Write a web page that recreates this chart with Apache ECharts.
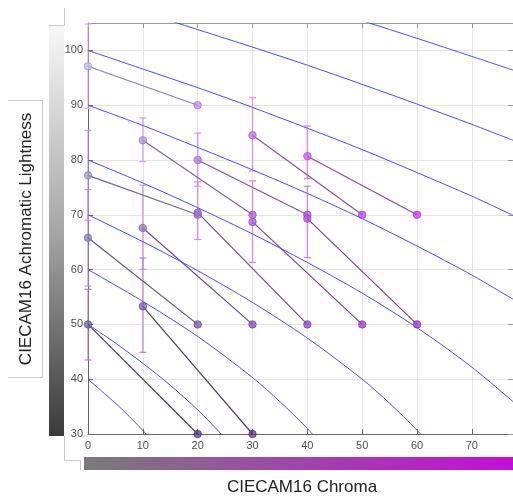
<!DOCTYPE html>
<html>
<head>
<meta charset="utf-8">
<script src="https://cdn.jsdelivr.net/npm/echarts@6/dist/echarts.min.js"></script>
<style>
html,body{margin:0;padding:0;background:#fff;}
#chart{width:513px;height:497px;}
</style>
</head>
<body>
<div id="chart"></div>
<script>
// ---------- data ----------
const chromaTicks = [0, 10, 20, 30, 40, 50, 60, 70];
const lightnessTicks = [30, 40, 50, 60, 70, 80, 90, 100];

// matched achromatic/chromatic pairs (left end = match, right end = stimulus)
const matchChroma = [0, 10, 20, 30, 40, 0, 20, 30, 40, 0, 10, 0, 10];
const matchLight  = [97.1, 83.6, 80.0, 84.5, 80.7, 77.2, 70.4, 68.7, 69.3, 65.8, 67.6, 50.0, 53.3];
const stimChroma  = [20, 30, 40, 50, 60, 20, 40, 50, 60, 20, 30, 20, 30];
const stimLight   = [90, 70, 70, 70, 70, 70, 50, 50, 50, 50, 50, 30, 30];
const errLow      = [89.4, 79.7, 75.2, 78.0, 76.6, 69.0, 65.5, 61.3, 62.2, 57.0, 60.05, 43.5, 44.9];
const errHigh     = [104.8, 87.7, 84.9, 91.4, 86.2, 85.4, 76.0, 76.2, 75.2, 74.6, 75.4, 56.4, 62.1];

// iso-lightness curves (chroma, lightness)
const iso40  = [[0,40],[3,37.4],[6,34.7],[9,31.7],[10.6,30.0],[12,28.4]];
const iso50  = [[0,50],[5,46.6],[10,42.9],[15,38.9],[20,34.4],[24,30.3],[26,28.0]];
const iso60  = [[0,60],[10,54.2],[20,47.8],[30,40.3],[35,35.9],[40,31.0],[43,27.6]];
const iso70  = [[0,70],[10,65.1],[20,59.8],[30,54.0],[40,47.5],[50,40.0],[55,35.6],[60,30.7],[62,28.4]];
const iso80  = [[0,80],[10,75.8],[20,71.3],[30,66.5],[40,61.3],[50,55.7],[60,49.4],[70,42.2],[77.5,35.9]];
const iso90  = [[0,90],[10,86.3],[20,82.3],[30,78.2],[40,73.9],[50,69.3],[60,64.3],[70,59.0],[77.5,54.6]];
const iso100 = [[0,100],[10,96.6],[20,93.2],[30,89.6],[40,85.8],[50,81.9],[60,77.7],[70,73.4],[77.5,69.9]];
const iso110 = [[0,110],[10,107.0],[20,103.8],[30,100.6],[40,97.3],[50,93.8],[60,90.2],[70,86.5],[77.5,83.6]];
const iso120 = [[40,108.4],[50,105.4],[60,102.2],[70,98.9],[77.5,96.4]];
const isoCurves = [iso40, iso50, iso60, iso70, iso80, iso90, iso100, iso110, iso120];

// ---------- styling helpers ----------
const FONT = 'Liberation Sans, Arial, sans-serif';
function clamp(v) { return Math.max(0, Math.min(255, v)); }
function markerRGB(c, L) {
  const g = clamp(1.9 * L + 5);
  const base = [g, g, clamp(g + 55)];
  const purple = [clamp(2 * L + 80), 30, clamp(2 * L + 130)];
  const t = Math.min(1, c / 70);
  return base.map((v, i) => Math.round(v * (1 - t) + purple[i] * t));
}
function rgb(a, alpha) { return 'rgba(' + a[0] + ',' + a[1] + ',' + a[2] + ',' + (alpha == null ? 1 : alpha) + ')'; }
function mix(a, b, w) { return a.map((v, i) => Math.round(v * (1 - w) + b[i] * w)); }
function scale(a, k) { return a.map(v => Math.round(v * k)); }
function desat(a, w) { const m = (a[0] + a[1] + a[2]) / 3; return a.map(v => Math.round(v * (1 - w) + m * w)); }

// ---------- series ----------
const series = [];

// error bars
const errData = matchChroma.map((c, i) => [c, errLow[i], errHigh[i], matchLight[i]]);
series.push({
  type: 'custom',
  xAxisIndex: 0, yAxisIndex: 0,
  z: 2,
  clip: false,
  data: errData,
  renderItem: function (params, api) {
    const x = api.value(0), lo = api.value(1), hi = api.value(2), L = api.value(3);
    const p1 = api.coord([x, lo]);
    const p2 = api.coord([x, hi]);
    const col = rgb(mix(markerRGB(x, L), [238, 150, 255], 0.5), 0.85);
    const st = { stroke: col, lineWidth: 1.3 };
    const hw = 3.5;
    return {
      type: 'group',
      children: [
        { type: 'line', shape: { x1: p1[0], y1: p1[1], x2: p2[0], y2: p2[1] }, style: st },
        { type: 'line', shape: { x1: p1[0] - hw, y1: p1[1], x2: p1[0] + hw, y2: p1[1] }, style: st },
        { type: 'line', shape: { x1: p2[0] - hw, y1: p2[1], x2: p2[0] + hw, y2: p2[1] }, style: st }
      ]
    };
  }
});

// connecting segments
matchChroma.forEach((c, i) => {
  const col = scale(desat(mix(markerRGB(c, matchLight[i]), markerRGB(stimChroma[i], stimLight[i]), 0.5), 0.3), 0.74);
  series.push({
    type: 'line',
    xAxisIndex: 0, yAxisIndex: 0,
    z: 3,
    symbol: 'none',
    silent: true,
    lineStyle: { color: rgb(col), width: 1.2 },
    data: [[c, matchLight[i]], [stimChroma[i], stimLight[i]]]
  });
});

// markers
const pts = [];
matchChroma.forEach((c, i) => { pts.push([c, matchLight[i]]); pts.push([stimChroma[i], stimLight[i]]); });
series.push({
  type: 'scatter',
  xAxisIndex: 0, yAxisIndex: 0,
  z: 4,
  symbol: 'circle',
  symbolSize: 7.5,
  data: pts.map(p => {
    const m = markerRGB(p[0], p[1]);
    return { value: p, itemStyle: { color: rgb(m, 0.92), borderColor: rgb(scale(m, 0.78)), borderWidth: 0.8 } };
  })
});

// iso curves
isoCurves.forEach(curve => {
  series.push({
    type: 'line',
    xAxisIndex: 0, yAxisIndex: 0,
    z: 5,
    symbol: 'none',
    smooth: 0.3,
    silent: true,
    clip: true,
    lineStyle: { color: '#4d4dff', width: 1 },
    data: curve
  });
});

// ---------- chart ----------
const chart = echarts.init(document.getElementById('chart'), null, { renderer: 'canvas' });
const xMin = chromaTicks[0], yMin = lightnessTicks[0];
const gridCfg = { left: 88, top: 23, width: 425, height: 411, outerBoundsMode: 'none', containLabel: false };

chart.setOption({
  animation: false,
  backgroundColor: '#ffffff',
  grid: gridCfg,
  xAxis: [
    {
      type: 'value', position: 'bottom', min: xMin, max: 77.5, interval: 10,
      axisLine: { show: true, onZero: false, lineStyle: { color: '#666', width: 1 } },
      axisTick: { show: true, inside: true, length: 5, lineStyle: { color: '#666' } },
      axisLabel: { color: '#505050', fontSize: 11, fontFamily: FONT, margin: 6, showMaxLabel: false,
        formatter: v => chromaTicks.indexOf(v) >= 0 ? String(v) : '' },
      splitLine: { show: true, lineStyle: { color: '#e6e6e6', width: 1 } }
    },
    {
      type: 'value', position: 'top', min: xMin, max: 77.5, interval: 10,
      axisLine: { show: true, onZero: false, lineStyle: { color: '#999', width: 1 } },
      axisTick: { show: true, inside: true, length: 5, lineStyle: { color: '#999' } },
      axisLabel: { show: false },
      splitLine: { show: false }
    }
  ],
  yAxis: [
    {
      type: 'value', position: 'left', min: yMin, max: 105, interval: 10,
      axisLine: { show: true, onZero: false, lineStyle: { color: '#666', width: 1 } },
      axisTick: { show: true, inside: true, length: 5, lineStyle: { color: '#666' } },
      axisLabel: { color: '#505050', fontSize: 11, fontFamily: FONT, margin: 5, showMaxLabel: false,
        formatter: v => lightnessTicks.indexOf(v) >= 0 ? String(v) : '' },
      splitLine: { show: true, lineStyle: { color: '#e6e6e6', width: 1 } }
    },
    {
      type: 'value', position: 'right', min: yMin, max: 105, interval: 10,
      axisLine: { show: true, onZero: false, lineStyle: { color: '#999', width: 1 } },
      axisTick: { show: true, inside: true, length: 5, lineStyle: { color: '#999' } },
      axisLabel: { show: false },
      splitLine: { show: false }
    }
  ],
  graphic: [
    // y label box
    { type: 'polyline', silent: true, z: 0,
      shape: { points: [[8, 100.5], [42.5, 100.5], [42.5, 377.5], [8, 377.5]] },
      style: { stroke: '#cccccc', fill: null, lineWidth: 1 } },
    { type: 'text', silent: true, z: 10, x: 26, y: 239, rotation: Math.PI / 2,
      style: { text: 'CIECAM16 Achromatic Lightness', font: '17px ' + FONT, fill: '#222',
        align: 'center', verticalAlign: 'middle' } },
    // y colour bar and panel edges
    { type: 'rect', silent: true, z: 0,
      shape: { x: 49, y: 26, width: 15, height: 410 },
      style: { fill: new echarts.graphic.LinearGradient(0, 0, 0, 1, [
        { offset: 0, color: '#f8f8f8' }, { offset: 0.5, color: '#a6a6a6' }, { offset: 1, color: '#3a3a3a' }]) } },
    { type: 'polyline', silent: true, z: 0,
      shape: { points: [[64.5, 8], [64.5, 25.5], [49, 25.5]] },
      style: { stroke: '#c8c8c8', fill: null, lineWidth: 1 } },
    { type: 'polyline', silent: true, z: 0,
      shape: { points: [[64.5, 436], [64.5, 460.5], [80.5, 460.5], [80.5, 470]] },
      style: { stroke: '#c8c8c8', fill: null, lineWidth: 1 } },
    // x colour bar
    { type: 'rect', silent: true, z: 0,
      shape: { x: 84, y: 457, width: 429, height: 13 },
      style: { fill: new echarts.graphic.LinearGradient(0, 0, 1, 0, [
        { offset: 0, color: '#7a7a7a' }, { offset: 0.5, color: '#9e46a9' }, { offset: 1, color: '#c20fd6' }]) } },
    { type: 'text', silent: true, z: 10, x: 302, y: 487,
      style: { text: 'CIECAM16 Chroma', font: '17px ' + FONT, fill: '#222',
        align: 'center', verticalAlign: 'middle' } }
  ],
  series: series
});
</script>
</body>
</html>
